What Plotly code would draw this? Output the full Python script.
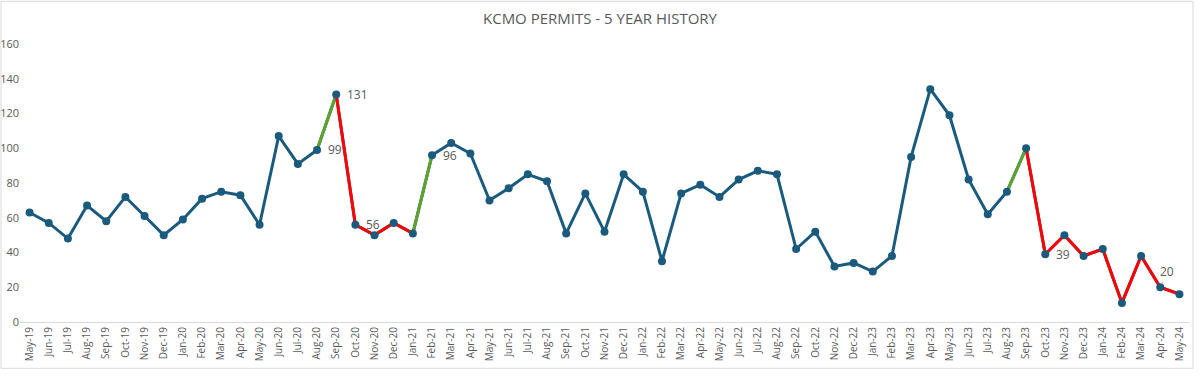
import plotly.graph_objects as go

months = ["May-19","Jun-19","Jul-19","Aug-19","Sep-19","Oct-19","Nov-19","Dec-19",
          "Jan-20","Feb-20","Mar-20","Apr-20","May-20","Jun-20","Jul-20","Aug-20","Sep-20","Oct-20","Nov-20","Dec-20",
          "Jan-21","Feb-21","Mar-21","Apr-21","May-21","Jun-21","Jul-21","Aug-21","Sep-21","Oct-21","Nov-21","Dec-21",
          "Jan-22","Feb-22","Mar-22","Apr-22","May-22","Jun-22","Jul-22","Aug-22","Sep-22","Oct-22","Nov-22","Dec-22",
          "Jan-23","Feb-23","Mar-23","Apr-23","May-23","Jun-23","Jul-23","Aug-23","Sep-23","Oct-23","Nov-23","Dec-23",
          "Jan-24","Feb-24","Mar-24","Apr-24","May-24"]

permits = [63,57,48,67,58,72,61,50,
           59,71,75,73,56,107,91,99,131,56,50,57,
           51,96,103,97,70,77,85,81,51,74,52,85,
           75,35,74,79,72,82,87,85,42,52,32,34,
           29,38,95,134,119,82,62,75,100,39,50,38,
           42,11,38,20,16]

# highlighted segments: (start month, end month)
green_segments = [("Aug-20","Sep-20"),("Jan-21","Feb-21"),("Aug-23","Sep-23")]
red_segments = [("Sep-20","Jan-21"),("Sep-23","May-24")]

# labelled points
labelled = ["Aug-20","Sep-20","Oct-20","Feb-21","Oct-23"]
arrow_labelled = ["Apr-24"]

BLUE = "#1A5A7D"
GREEN = "#5EA32E"
RED = "#FF0000"
GRAY = "#595959"

def seg_xy(segs):
    xs, ys = [], []
    for a, b in segs:
        i0, i1 = months.index(a), months.index(b)
        xs += months[i0:i1+1] + [None]
        ys += permits[i0:i1+1] + [None]
    return xs, ys

fig = go.Figure()
fig.add_trace(go.Scatter(x=months, y=permits, mode="lines",
                         line=dict(color=BLUE, width=3), hoverinfo="skip", showlegend=False))
gx, gy = seg_xy(green_segments)
fig.add_trace(go.Scatter(x=gx, y=gy, mode="lines", line=dict(color=GREEN, width=3),
                         connectgaps=False, showlegend=False))
rx, ry = seg_xy(red_segments)
fig.add_trace(go.Scatter(x=rx, y=ry, mode="lines", line=dict(color=RED, width=3),
                         connectgaps=False, showlegend=False))
fig.add_trace(go.Scatter(x=months, y=permits, mode="markers",
                         marker=dict(color=BLUE, size=8), showlegend=False))

annotations = []
for m in labelled:
    v = permits[months.index(m)]
    annotations.append(dict(x=m, y=v, xref="x", yref="y", text=str(v), showarrow=False,
                            xanchor="left", yanchor="middle", xshift=9,
                            font=dict(family="Open Sans", size=12, color=GRAY)))
for m in arrow_labelled:
    v = permits[months.index(m)]
    annotations.append(dict(x=m, y=v, xref="x", yref="y", text=str(v), showarrow=True,
                            arrowhead=0, arrowwidth=0.7, arrowcolor="#A6A6A6",
                            ax=7, ay=-16, standoff=3,
                            font=dict(family="Open Sans", size=12, color=GRAY)))
fig.update_layout(annotations=annotations)

# outer chart border
L, R, T, B = 20, 11, 43.7, 56.3
pw, ph = 1200 - L - R, 378 - T - B
def px_x(p): return (p - L) / pw
def px_y(p): return (378 - B - p) / ph
fig.add_shape(type="rect", xref="paper", yref="paper",
              x0=px_x(1), x1=px_x(1193), y0=px_y(368), y1=px_y(1),
              line=dict(color="#D9D9D9", width=1), fillcolor="rgba(0,0,0,0)", layer="below")

fig.update_layout(
    width=1200, height=378,
    margin=dict(l=L, r=R, t=T, b=B, autoexpand=False),
    paper_bgcolor="white", plot_bgcolor="white",
    title=dict(text="KCMO PERMITS - 5 YEAR HISTORY", x=0.5, xref="container", xanchor="center",
               y=1 - 19/378, yref="container", yanchor="middle", automargin=False,
               font=dict(family="Open Sans", size=15, color=GRAY)),
    xaxis=dict(type="category", range=[-0.5, len(months) - 0.5], tickangle=-90, automargin=False,
               showgrid=False, showline=True, linecolor="#D9D9D9", linewidth=1,
               zeroline=False, ticks="", tickfont=dict(family="Open Sans", size=10, color=GRAY)),
    yaxis=dict(range=[0, 160], dtick=20, showgrid=False, zeroline=False, showline=False,
               ticks="", automargin=False, tickfont=dict(family="Open Sans", size=11, color=GRAY)),
)

fig.write_html("out.html", config={"displayModeBar": False},
               post_script="document.body.style.margin='0';document.body.style.overflow='hidden';")
